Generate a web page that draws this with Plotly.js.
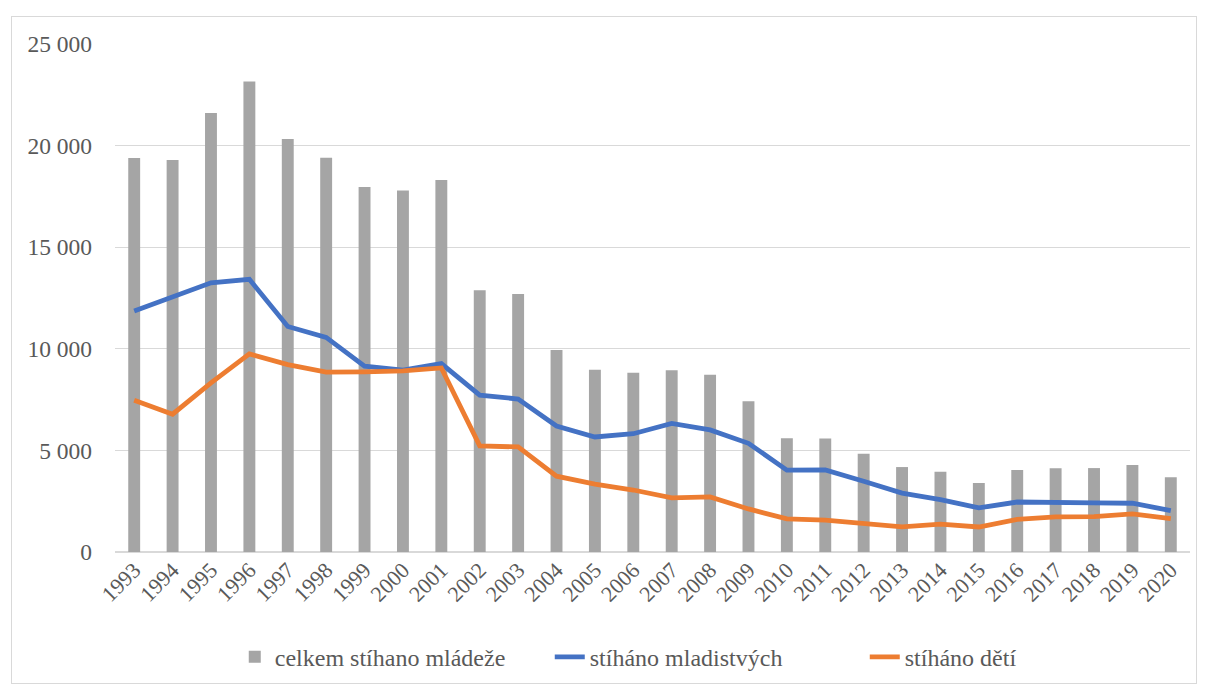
<!DOCTYPE html>
<html><head><meta charset="utf-8">
<script src="https://cdn.plot.ly/plotly-3.0.1.min.js"></script>
<style>
html,body{margin:0;padding:0;background:#fff;}
#frame{position:absolute;left:11px;top:16px;width:1186px;height:668px;border:1px solid #d9d9d9;box-sizing:border-box;pointer-events:none;z-index:5;}
#chart{position:absolute;left:0;top:0;width:1209px;height:686px;}
</style></head>
<body>
<div id="frame"></div>
<div id="chart"></div>
<script>
const years = ['1993','1994','1995','1996','1997','1998','1999','2000','2001','2002','2003','2004','2005','2006','2007','2008','2009','2010','2011','2012','2013','2014','2015','2016','2017','2018','2019','2020'];
const celkem = [19390,19290,21600,23150,20330,19400,17960,17790,18310,12880,12700,9940,8970,8820,8950,8720,7420,5600,5590,4830,4180,3950,3390,4040,4120,4130,4280,3680];
const mladistvych = [11860,12550,13250,13420,11100,10560,9150,8950,9270,7720,7530,6200,5660,5820,6330,6010,5350,4030,4040,3480,2900,2580,2170,2460,2420,2420,2400,2040];
const deti = [7470,6780,8320,9750,9220,8850,8860,8910,9060,5220,5170,3730,3340,3050,2660,2710,2120,1630,1570,1390,1240,1370,1230,1610,1730,1740,1880,1640];

const serif = 'Liberation Serif';
const data = [
  {type:'bar', x:years, y:celkem, name:'celkem stíhano mládeže', marker:{color:'#a5a5a5'}, width:0.31},
  {type:'scatter', mode:'lines', x:years, y:mladistvych, name:'stíháno mladistvých', line:{color:'#4472c4', width:4.8}},
  {type:'scatter', mode:'lines', x:years, y:deti, name:'stíháno dětí', line:{color:'#ed7d31', width:4.8}}
];
const layout = {
  width:1209, height:686,
  margin:{l:115, r:19, t:44, b:134},
  paper_bgcolor:'rgba(0,0,0,0)', plot_bgcolor:'#fff',
  separators:', ',
  font:{family:serif, size:22, color:'#595959'},
  showlegend:true,
  legend:{orientation:'h', xref:'container', yref:'container', x:0.585, xanchor:'center', y:0.042, yanchor:'middle', font:{family:serif, size:24, color:'#595959'}, traceorder:'normal', entrywidth:270, entrywidthmode:'pixels'},
  xaxis:{type:'category', tickangle:-45, tickfont:{family:serif, size:22, color:'#595959'}, showgrid:false, showline:false, ticks:'', automargin:false},
  yaxis:{range:[0,25000], dtick:5000, tickformat:',d', showgrid:true, gridcolor:'#d9d9d9', gridwidth:1.3, zeroline:true, zerolinecolor:'#d9d9d9', zerolinewidth:1.3, showline:false, ticks:'', ticklabelstandoff:22, automargin:false, tickfont:{family:serif, size:23.5, color:'#595959'}},
  bargap:0.69
};
Plotly.newPlot('chart', data, layout, {displayModeBar:false, staticPlot:true});
</script>
</body></html>
